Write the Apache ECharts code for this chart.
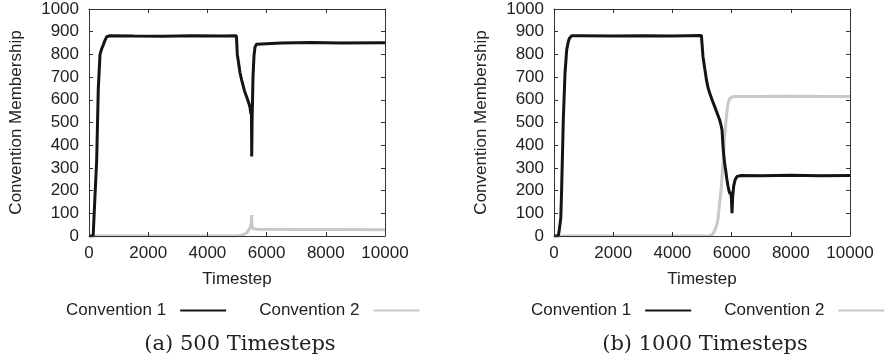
<!DOCTYPE html>
<html><head><meta charset="utf-8">
<script src="https://cdn.jsdelivr.net/npm/echarts@6/dist/echarts.min.js"></script>
<style>html,body{margin:0;padding:0;background:#fff}#c{width:888px;height:362px}</style>
</head><body><div id="c"></div>
<script>
// ---- data ----
const seriesNames = ['Convention 1', 'Convention 2'];
const captions = ['(a) 500 Timesteps', '(b) 1000 Timesteps'];
const xAxisName = 'Timestep';
const yAxisName = 'Convention Membership';
const xRange = [0, 10000, 2000];   // min, max, interval
const yRange = [0, 1000, 100];

// panel (a): 500 timesteps  [timestep, membership]
const a_conv1 = [[0,0],[140,0],[200,170],[260,335],[314,650],[372,800],[430,825],[483,842],[540,862],[600,878],[700,882],
  [1500,881],[2500,880],[3500,882],[4500,881],[4980,882],[5010,800],[5045,770],[5100,720],[5159,687],[5250,640],
  [5328,612],[5400,585],[5440,566],[5468,538],[5480,558],[5490,520],[5497,350],[5510,500],[5540,700],[5575,795],
  [5608,832],[5660,845],[5720,851],[6500,850],[7500,852],[8500,850],[10000,851]];
const a_conv2 = [[0,0],[5000,0],[5150,3],[5250,8],[5328,14],[5400,28],[5460,42],[5485,60],[5495,92],[5505,50],
  [5530,33],[5700,30],[7000,29],[8500,29],[10000,28]];

// panel (b): 1000 timesteps
const b_conv1 = [[0,0],[140,0],[170,18],[200,25],[230,80],[260,217],[314,511],[372,717],[428,819],[480,855],[518,870],
  [598,882],[800,882],[2000,881],[3000,882],[4000,881],[4980,883],[5034,790],[5090,740],[5147,690],[5200,655],
  [5259,630],[5340,600],[5428,570],[5500,545],[5597,511],[5640,490],[5676,467],[5710,395],[5740,350],[5766,320],
  [5800,290],[5840,250],[5878,220],[5920,195],[5950,185],[5975,195],[5995,160],[6014,100],[6035,170],[6070,220],
  [6120,248],[6182,262],[6300,266],[7000,265],[8000,268],[9000,265],[10000,266]];
const b_conv2 = [[0,0],[5250,0],[5372,10],[5450,30],[5500,50],[5541,75],[5600,150],[5653,217],[5710,320],[5766,437],
  [5822,525],[5878,584],[5930,605],[5957,611],[6050,615],[7000,614],[8000,616],[9000,614],[10000,615]];

// ---- styling ----
const FONT = "'Liberation Sans', Arial, sans-serif";
const TXT = '#222';
const C1 = '#141414', C2 = '#c8c8c8';
const AX = '#333';
const plain = v => String(v);

const panels = [
  {left: 89, legendLeft: 66, capX: 240, c1: a_conv1, c2: a_conv2, cap: captions[0]},
  {left: 554, legendLeft: 531, capX: 705, c1: b_conv1, c2: b_conv2, cap: captions[1]}
];

const grid = [], xAxis = [], yAxis = [], series = [], legend = [], graphic = [];
panels.forEach((p, i) => {
  grid.push({left: p.left, top: 9, width: 296, height: 227});
  const base = {type: 'value', gridIndex: i, min: xRange[0], max: xRange[1], interval: xRange[2],
    axisLine: {show: true, onZero: false, lineStyle: {color: AX, width: 1}},
    axisTick: {show: true, inside: true, length: 4, lineStyle: {color: AX}},
    splitLine: {show: false}, z: 5};
  xAxis.push(Object.assign({}, base, {position: 'bottom', name: xAxisName, nameLocation: 'middle', nameGap: 35,
    nameTextStyle: {fontFamily: FONT, fontSize: 17, color: TXT},
    axisLabel: {fontFamily: FONT, fontSize: 17, color: TXT, margin: 9, formatter: plain}}));
  xAxis.push(Object.assign({}, base, {position: 'top', axisLabel: {show: false}}));
  const ybase = Object.assign({}, base, {min: yRange[0], max: yRange[1], interval: yRange[2]});
  yAxis.push(Object.assign({}, ybase, {position: 'left', name: yAxisName, nameLocation: 'middle', nameGap: 64,
    nameTextStyle: {fontFamily: FONT, fontSize: 17, color: TXT},
    axisLabel: {fontFamily: FONT, fontSize: 17, color: TXT, margin: 10, formatter: plain}}));
  yAxis.push(Object.assign({}, ybase, {position: 'right', axisLabel: {show: false}}));
  [[p.c2, C2, seriesNames[1]], [p.c1, C1, seriesNames[0]]].forEach(([d, col, nm]) => {
    series.push({type: 'line', name: nm, xAxisIndex: i * 2, yAxisIndex: i * 2, data: d,
      showSymbol: false, symbol: 'none', color: col, itemStyle: {color: col},
      lineStyle: {color: col, width: 3}, clip: true, z: 2});
  });
  legend.push({left: p.legendLeft, top: 302, width: 357, padding: 0, data: seriesNames, align: 'right', icon: 'rect',
    itemWidth: 46, itemHeight: 2, itemGap: 33, selectedMode: false,
    textStyle: {fontFamily: FONT, fontSize: 17, color: TXT, padding: [0, 9, 0, 0]}});
  graphic.push({type: 'text', x: p.capX, y: 345, style: {text: p.cap, textAlign: 'center', align: 'center',
    textVerticalAlign: 'middle', verticalAlign: 'middle', fill: TXT,
    font: "21px 'DejaVu Serif', serif"}});
});

const chart = echarts.init(document.getElementById('c'));
chart.setOption({animation: false, grid, xAxis, yAxis, series, legend, graphic});
</script>
</body></html>
